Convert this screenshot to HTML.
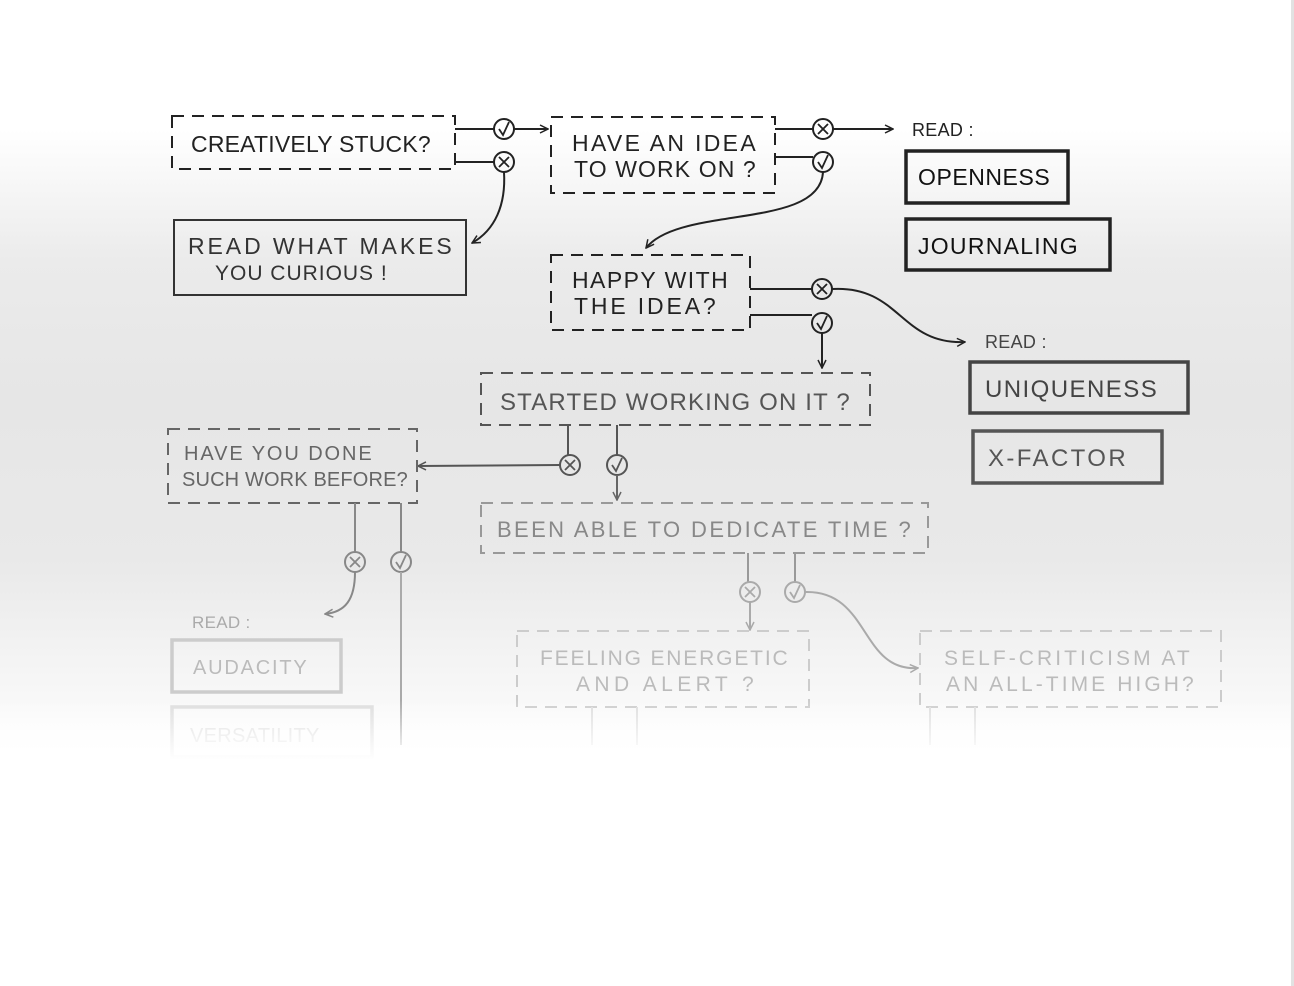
<!DOCTYPE html>
<html><head><meta charset="utf-8"><style>
html,body{margin:0;padding:0;}
body{width:1294px;height:986px;overflow:hidden;background:linear-gradient(to bottom,#fff 0px,#fff 130px,#ebebeb 260px,#e6e6e6 400px,#e9e9e9 560px,#f6f6f6 680px,#fff 760px,#fff 986px);position:relative;font-family:"Liberation Sans",sans-serif;}
.edge{position:absolute;left:1291px;top:0;width:3px;height:986px;background:#e2e2e2;}
svg text{font-family:"Liberation Sans",sans-serif;letter-spacing:0.3px;}
</style></head><body>
<div class="edge"></div>
<svg width="1294" height="986" style="position:absolute;left:0;top:0">
<defs>
<marker id="a" viewBox="0 0 10 10" refX="9" refY="5" markerWidth="10" markerHeight="10" orient="auto" markerUnits="userSpaceOnUse"><path d="M1,1 L9,5 L1,9" fill="none" stroke="context-stroke" stroke-width="1.5"/></marker>
<linearGradient id="fade" x1="0" y1="0" x2="0" y2="1"><stop offset="0" stop-color="#fff" stop-opacity="0"/><stop offset="1" stop-color="#fff" stop-opacity="1"/></linearGradient>
</defs>
<g fill="none" stroke-width="2">
<g stroke="#222" fill="none">
<rect x="172" y="116" width="283" height="53" stroke-dasharray="12,8"/>
<rect x="551" y="117" width="224" height="76" stroke-dasharray="12,8"/>
<path d="M455 129 H494"/><path d="M455 162 H494"/>
<circle cx="504" cy="129" r="10"/><circle cx="504" cy="162" r="10"/>
<path d="M514 129 H548" marker-end="url(#a)"/>
<path d="M504 172 C506 205 495 230 472 243" marker-end="url(#a)"/>
<path d="M775 129 H813"/><path d="M775 157 H813"/>
<circle cx="823" cy="129" r="10"/><circle cx="823" cy="162" r="10"/>
<path d="M833 129 H893" marker-end="url(#a)"/>
<path d="M823 172 C820 230 680 205 646 248" marker-end="url(#a)"/>
<rect x="906" y="151" width="162" height="52" stroke-width="3.5"/>
<rect x="906" y="219" width="204" height="51" stroke-width="3.5"/>
<rect x="174" y="220" width="292" height="75" stroke="#333"/>
<rect x="551" y="255" width="199" height="75" stroke-dasharray="12,8"/>
<path d="M750 289 H812"/><path d="M750 315 H812"/>
<circle cx="822" cy="289" r="10"/><circle cx="822" cy="323" r="10"/>
<path d="M832 289 C900 285 900 345 965 342" marker-end="url(#a)"/>
<path d="M822 333 V368" marker-end="url(#a)"/>
</g>
<g stroke="#444">
<rect x="970" y="362" width="218" height="51" stroke-width="3.5"/>
<rect x="973" y="431" width="189" height="52" stroke-width="3.5" stroke="#555"/>
<rect x="481" y="373" width="389" height="52" stroke-dasharray="12,8" stroke="#555"/>
<path d="M568 425 V455 M617 425 V455" stroke="#555"/>
<circle cx="570" cy="465" r="10" stroke="#555"/><circle cx="617" cy="465" r="10" stroke="#555"/>
<path d="M560 465 L418 466" stroke="#555" marker-end="url(#a)"/>
<path d="M617 475 V500" stroke="#666" marker-end="url(#a)"/>
<rect x="168" y="429" width="249" height="74" stroke-dasharray="12,8" stroke="#666"/>
</g>
<g stroke="#888">
<path d="M355 503 V552 M401 503 V552"/>
<circle cx="355" cy="562" r="10"/><circle cx="401" cy="562" r="10"/>
<path d="M355 572 C355 600 345 612 325 614" marker-end="url(#a)"/>
<path d="M401 572 V745" stroke="#aaa"/>
<rect x="481" y="503" width="447" height="50" stroke-dasharray="12,8" stroke="#999"/>
<path d="M748 553 V582 M795 553 V582" stroke="#999"/>
<circle cx="750" cy="592" r="10" stroke="#aaa"/><circle cx="795" cy="592" r="10" stroke="#aaa"/>
<path d="M750 602 V630" stroke="#aaa" marker-end="url(#a)"/>
<path d="M805 592 C870 590 860 672 918 668" stroke="#aaa" marker-end="url(#a)"/>
</g>
<g stroke="#ccc">
<rect x="172" y="640" width="169" height="52" stroke-width="3.5"/>
<rect x="172" y="707" width="200" height="50" stroke-width="3.5" stroke="#ddd"/>
<rect x="517" y="631" width="292" height="76" stroke-dasharray="12,8"/>
<rect x="920" y="631" width="301" height="76" stroke-dasharray="12,8"/>
<path d="M592 707 V745 M637 707 V745 M930 707 V745 M975 707 V745" stroke="#ddd"/>
</g>
</g>
<g font-size="24">
<text x="191" y="152" fill="#222" font-size="23" textLength="240">CREATIVELY STUCK?</text>
<text x="572" y="151" fill="#222" font-size="23" textLength="184">HAVE AN IDEA</text>
<text x="574" y="177" fill="#222" font-size="23" textLength="182">TO WORK ON ?</text>
<text x="912" y="136" fill="#222" font-size="18">READ :</text>
<text x="918" y="185" fill="#111" font-size="23" textLength="132">OPENNESS</text>
<text x="918" y="254" fill="#111" font-size="23" textLength="160">JOURNALING</text>
<text x="188" y="254" fill="#333" font-size="23" textLength="264">READ  WHAT MAKES</text>
<text x="215" y="280" fill="#333" font-size="21" textLength="172">YOU CURIOUS !</text>
<text x="572" y="288" fill="#222" font-size="23" textLength="156">HAPPY WITH</text>
<text x="574" y="314" fill="#222" font-size="23" textLength="142">THE IDEA?</text>
<text x="985" y="348" fill="#444" font-size="18">READ :</text>
<text x="985" y="397" fill="#444" font-size="24" textLength="172">UNIQUENESS</text>
<text x="988" y="466" fill="#555" font-size="24" textLength="138">X-FACTOR</text>
<text x="500" y="410" fill="#555" font-size="24" textLength="350">STARTED  WORKING ON  IT ?</text>
<text x="184" y="460" fill="#666" font-size="20" textLength="188">HAVE YOU DONE</text>
<text x="182" y="486" fill="#666" font-size="20" textLength="226">SUCH WORK BEFORE?</text>
<text x="497" y="537" fill="#888" font-size="22" textLength="414">BEEN ABLE TO DEDICATE TIME ?</text>
<text x="192" y="628" fill="#aaa" font-size="17">READ :</text>
<text x="193" y="674" fill="#bbb" font-size="20" textLength="114">AUDACITY</text>
<text x="190" y="742" fill="#ddd" font-size="20">VERSATILITY</text>
<text x="540" y="665" fill="#bbb" font-size="21" textLength="248">FEELING ENERGETIC</text>
<text x="576" y="691" fill="#bbb" font-size="21" textLength="178">AND ALERT ?</text>
<text x="944" y="665" fill="#bbb" font-size="21" textLength="246">SELF-CRITICISM AT</text>
<text x="946" y="691" fill="#bbb" font-size="21" textLength="248">AN ALL-TIME HIGH?</text>
</g>
<g fill="none" stroke-width="1.8">
<path d="M499 129 L503 135 L509 122" stroke="#222"/>
<path d="M499 157 L509 167 M509 157 L499 167" stroke="#222"/>
<path d="M818 124 L828 134 M828 124 L818 134" stroke="#222"/>
<path d="M818 162 L822 168 L828 155" stroke="#222"/>
<path d="M817 284 L827 294 M827 284 L817 294" stroke="#222"/>
<path d="M817 323 L821 329 L827 316" stroke="#222"/>
<path d="M565 460 L575 470 M575 460 L565 470" stroke="#555"/>
<path d="M612 465 L616 471 L622 458" stroke="#555"/>
<path d="M350 557 L360 567 M360 557 L350 567" stroke="#888"/>
<path d="M396 562 L400 568 L406 555" stroke="#888"/>
<path d="M745 587 L755 597 M755 587 L745 597" stroke="#aaa"/>
<path d="M790 592 L794 598 L800 585" stroke="#aaa"/>
</g>
<rect x="0" y="700" width="1290" height="60" fill="url(#fade)"/>
</svg>
</body></html>
